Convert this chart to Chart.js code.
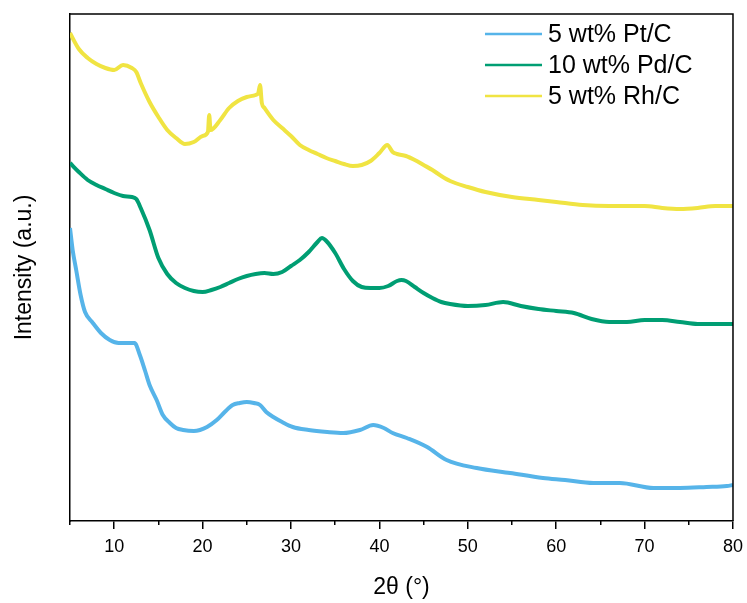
<!DOCTYPE html>
<html>
<head>
<meta charset="utf-8">
<script src="https://cdn.jsdelivr.net/npm/chart.js@4.4.1/dist/chart.umd.min.js"></script>
<style>
  html, body { margin: 0; padding: 0; background: #fff; }
  #wrap { width: 747px; height: 603px; }
</style>
</head>
<body>
<div id="wrap"><canvas id="xrd" width="747" height="603"></canvas></div>
<script>
// series labels + colours
const seriesNames = ["5 wt% Pt/C", "10 wt% Pd/C", "5 wt% Rh/C"];
const seriesColors = ["#56B4E9", "#009E73", "#F0E442"];

// 2theta positions and intensities (a.u., stacked offsets as drawn)
const ptAngle = [5, 5.3, 5.7, 6.2, 6.7, 7.5, 8.5, 9.5, 10.5, 11.5, 12.3, 12.9, 13.5, 14, 14.8, 15.5, 16.3, 17, 17.8, 19, 19.7, 20.5, 21.6, 22.5, 23.4, 24.2, 25, 25.8, 26.5, 27.2, 28, 29, 30.2, 32, 34.1, 35.9, 37.8, 39.3, 40.5, 41.5, 43.1, 45.4, 47.6, 51, 54.8, 58.5, 61, 64.2, 67.2, 71, 74, 77, 79.3, 80];
const ptValue = [293, 271, 251, 226, 209, 199, 188, 181, 178, 178, 178, 166, 150, 136, 121, 106, 98, 93, 91, 90, 91, 94, 101, 109, 116, 118, 119, 118, 116, 109, 104, 99, 94, 91, 89, 88, 91, 96, 93, 88, 83, 74, 61, 53, 48, 43, 41, 38, 38, 33, 33, 34, 35, 36];

const pdAngle = [5, 6, 7, 8, 9, 10, 11, 12, 12.5, 13, 14, 15, 16, 17, 18, 19, 20, 21, 22, 23, 24, 25, 26, 27, 28, 29, 30, 31, 32, 33, 33.5, 34, 35, 36, 37, 38, 39, 40, 41, 42, 42.5, 43, 44, 45, 46, 47, 48, 50, 52, 54, 56, 58, 60, 62, 64, 66, 68, 70, 72, 74, 76, 78, 80];
const pdValue = [358, 349, 341, 336, 332, 328, 325, 324, 322, 313, 291, 263, 247, 238, 233, 230, 229, 231, 234, 238, 242, 245, 247, 248, 247, 249, 255, 261, 269, 279, 283, 280, 268, 252, 240, 234, 233, 233, 235, 240, 241, 240, 234, 228, 223, 219, 217, 215, 216, 219, 215, 212, 210, 208, 202, 199, 199, 201, 201, 199, 197, 197, 197];

const rhAngle = [5, 6, 7, 8, 9, 10, 11, 12, 12.5, 13, 14, 15, 16, 17, 18, 19, 20, 20.6, 20.75, 20.9, 22, 23, 24, 25, 26, 26.3, 26.5, 26.7, 27, 28, 29, 30, 31, 32, 33, 34, 35, 36, 37, 38, 39, 40, 40.9, 41.5, 42, 43, 44, 45, 46, 47, 48, 50, 52, 55, 58, 60, 63, 66, 70, 72, 74, 76, 78, 80];
const rhValue = [488, 472, 463, 457, 453, 451, 456, 453, 449, 438, 419, 404, 391, 383, 377, 379, 385, 389, 406, 391, 401, 413, 420, 424, 426, 428, 436, 418, 413, 401, 393, 385, 376, 371, 367, 363, 360, 357, 355, 356, 360, 368, 376, 369, 367, 365, 361, 356, 351, 345, 340, 334, 329, 324, 321, 319, 316, 315, 315, 313, 312, 313, 315, 315];

// axis ticks
const xMajorTicks = [10, 20, 30, 40, 50, 60, 70, 80];
const xMinorTicks = [5, 15, 25, 35, 45, 55, 65, 75];

const pairs = (xs, ys) => xs.map((x, i) => ({ x: x, y: ys[i] }));

const framePlugin = {
  id: "frame",
  afterDraw(chart) {
    const { ctx, chartArea } = chart;
    ctx.save();
    ctx.strokeStyle = "#000";
    ctx.lineWidth = 1.5;
    ctx.beginPath();
    ctx.moveTo(chartArea.left, chartArea.top);
    ctx.lineTo(chartArea.right, chartArea.top);
    ctx.lineTo(chartArea.right, chartArea.bottom);
    ctx.stroke();

    // legend inside the frame, top right
    ctx.font = "25px 'Liberation Sans', Arial, sans-serif";
    ctx.textBaseline = "middle";
    ctx.textAlign = "left";
    chart.data.datasets.forEach((ds, i) => {
      const y = chartArea.top + 20 + i * 31;
      ctx.strokeStyle = ds.borderColor;
      ctx.lineWidth = 2.5;
      ctx.beginPath();
      ctx.moveTo(chartArea.right - 248, y);
      ctx.lineTo(chartArea.right - 191, y);
      ctx.stroke();
      ctx.fillStyle = "#000";
      ctx.fillText(ds.label, chartArea.right - 185, y + 1);
    });
    ctx.restore();
  }
};

const ctx = document.getElementById("xrd").getContext("2d");
const chart = new Chart(ctx, {
  type: "line",
  data: {
    datasets: [
      { label: seriesNames[0], data: pairs(ptAngle, ptValue), borderColor: seriesColors[0] },
      { label: seriesNames[1], data: pairs(pdAngle, pdValue), borderColor: seriesColors[1] },
      { label: seriesNames[2], data: pairs(rhAngle, rhValue), borderColor: seriesColors[2] },
    ],
  },
  options: {
    responsive: false,
    animation: false,
    devicePixelRatio: 1,
    layout: { padding: { top: 14, right: 14, left: 0, bottom: 0 } },
    elements: {
      point: { radius: 0 },
      line: { borderWidth: 4, cubicInterpolationMode: "monotone", fill: false },
    },
    plugins: {
      legend: { display: false },
      tooltip: { enabled: false },
    },
    scales: {
      x: {
        type: "linear",
        position: "bottom",
        weight: 1,
        min: 5,
        max: 80,
        afterBuildTicks: (s) => { s.ticks = xMajorTicks.map((v) => ({ value: v })); },
        afterFit: (s) => { s.height = 82; },
        border: { display: true, color: "#000", width: 1.5 },
        grid: { display: true, drawOnChartArea: false, drawTicks: true, tickLength: 8, color: "#000", lineWidth: 1.5 },
        ticks: {
          autoSkip: false,
          maxRotation: 0,
          padding: 4,
          color: "#000",
          font: { family: "'Liberation Sans', Arial, sans-serif", size: 18, lineHeight: 1.6 },
          callback: (v) => String(v),
        },
        title: {
          display: true,
          text: "2θ (°)",
          color: "#000",
          font: { family: "'Liberation Sans', Arial, sans-serif", size: 23 },
          padding: { top: 0, bottom: 2 },
        },
      },
      xMinor: {
        type: "linear",
        position: "bottom",
        weight: 0,
        min: 5,
        max: 80,
        afterBuildTicks: (s) => { s.ticks = xMinorTicks.map((v) => ({ value: v })); },
        afterFit: (s) => { s.height = 0; },
        border: { display: false },
        grid: { display: true, drawOnChartArea: false, drawTicks: true, tickLength: 4, color: "#000", lineWidth: 1.5 },
        ticks: { display: false },
      },
      y: {
        type: "linear",
        min: 0,
        max: 507,
        afterFit: (s) => { s.width = 70; },
        border: { display: true, color: "#000", width: 1.5 },
        grid: { display: false },
        ticks: { display: false },
        title: {
          display: true,
          text: "Intensity (a.u.)",
          color: "#000",
          font: { family: "'Liberation Sans', Arial, sans-serif", size: 23 },
          padding: { top: 11, bottom: 0 },
        },
      },
    },
  },
  plugins: [framePlugin],
});
</script>
</body>
</html>
